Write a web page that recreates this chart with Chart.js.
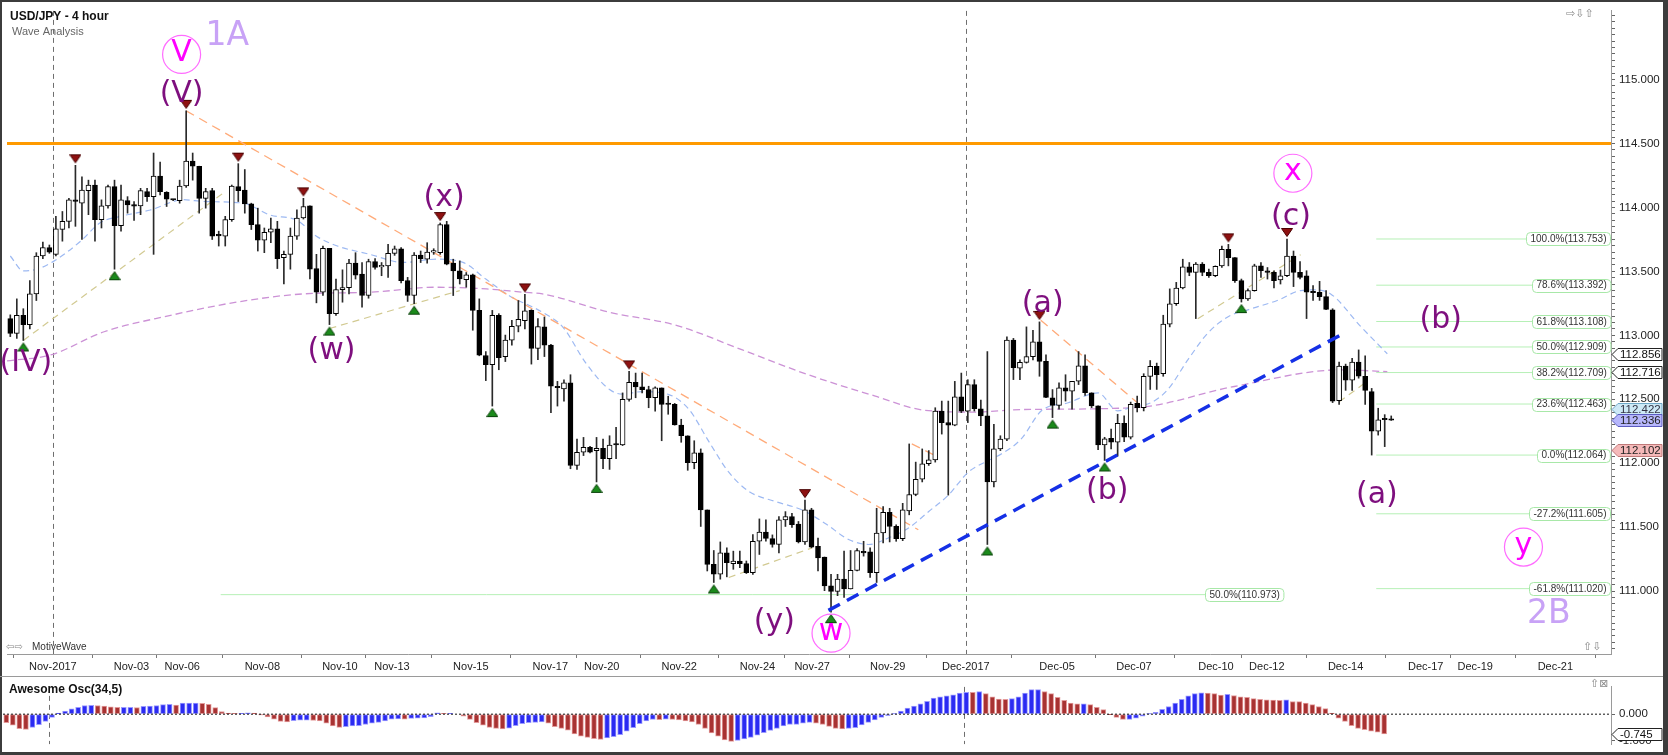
<!DOCTYPE html>
<html><head><meta charset="utf-8">
<script src="https://cdn.jsdelivr.net/npm/chart.js@4.4.1/dist/chart.umd.min.js"></script>
<style>
html,body{margin:0;padding:0;background:#fff;overflow:hidden;}
#wrap{position:relative;width:1668px;height:755px;background:#fff;overflow:hidden;}
canvas{position:absolute;left:0;}
#main{top:0;}
#ao{top:676px;}
.b{position:absolute;background:#3c3c3c;}
</style></head>
<body><div id="wrap">
<canvas id="main" width="1668" height="676" style="width:1668px;height:676px"></canvas>
<canvas id="ao" width="1668" height="79" style="width:1668px;height:79px"></canvas>
<div class="b" style="left:0;top:0;width:2px;height:755px"></div>
<div class="b" style="left:0;top:0;width:1668px;height:2px"></div>
<div class="b" style="left:1663px;top:0;width:5px;height:755px"></div>
<div class="b" style="left:0;top:752px;width:1668px;height:3px"></div>
<div style="position:absolute;left:0;top:676px;width:1663px;height:1px;background:#9a9a9a"></div>
</div>
<script>
// ---------------- DATA ----------------
const opens = [
113.131,113.015,113.156,113.084,113.324,113.620,113.685,113.633,113.827,113.891,
114.059,114.033,114.131,114.175,113.904,114.012,114.162,113.857,114.053,114.015,
114.012,114.123,114.084,114.244,114.118,114.062,114.053,114.167,114.363,114.322,
114.071,114.131,113.782,113.775,113.904,114.162,114.136,114.028,113.865,113.744,
113.806,113.832,113.607,113.633,113.775,113.917,114.012,113.522,113.337,113.680,
113.169,113.357,113.373,113.564,113.479,113.311,113.577,113.535,113.543,113.641,
113.677,113.427,113.311,113.628,113.595,113.651,113.646,113.865,113.564,113.504,
113.435,113.473,113.195,112.842,112.770,113.156,112.834,112.963,113.071,113.115,
113.195,112.898,113.066,112.924,112.598,112.581,112.628,111.983,112.086,112.125,
112.099,112.117,112.035,112.148,112.143,112.499,112.633,112.597,112.576,112.512,
112.589,112.462,112.460,112.298,112.215,112.004,112.081,111.635,111.210,111.133,
111.300,111.215,111.236,111.215,111.145,111.390,111.462,111.411,111.365,111.558,
111.584,111.524,111.385,111.635,111.351,111.267,111.042,110.998,111.094,111.017,
111.163,111.308,111.308,111.145,111.455,111.617,111.506,111.411,111.628,111.756,
111.875,111.996,112.027,112.408,112.318,112.298,112.519,112.408,112.615,112.426,
112.370,111.854,112.112,112.189,112.963,112.744,112.788,112.834,112.950,112.796,
112.512,112.453,112.589,112.563,112.641,112.762,112.551,112.448,112.143,112.195,
112.164,112.313,112.203,112.468,112.435,112.679,112.757,112.700,113.087,113.247,
113.370,113.535,113.492,113.556,113.492,113.466,113.543,113.672,113.607,113.427,
113.285,113.350,113.543,113.505,113.492,113.433,113.466,113.620,113.492,113.466,
113.337,113.337,113.303,113.200,112.490,112.760,112.650,112.790,112.680,112.560,
112.250,112.350,112.340];
const highs = [
113.160,113.285,113.208,113.427,113.646,113.729,113.706,113.930,113.968,114.071,
114.329,114.239,114.213,114.213,114.059,114.175,114.213,114.175,114.084,114.046,
114.149,114.149,114.425,114.355,114.123,114.064,114.213,114.755,114.425,114.322,
114.149,114.149,113.814,113.930,114.175,114.342,114.296,114.033,113.994,113.839,
113.917,113.891,113.659,113.839,113.981,114.071,114.012,113.633,113.698,113.680,
113.440,113.512,113.595,113.646,113.569,113.595,113.600,113.569,113.711,113.698,
113.685,113.453,113.646,113.659,113.724,113.677,113.878,113.891,113.595,113.582,
113.491,113.479,113.285,112.873,113.195,113.169,113.002,113.118,113.272,113.320,
113.200,113.130,113.143,112.930,112.640,112.653,112.692,112.189,112.202,112.133,
112.202,112.189,112.215,112.280,112.550,112.718,112.705,112.705,112.602,112.597,
112.589,112.524,112.468,112.344,112.215,112.176,112.112,111.635,111.318,111.385,
111.339,111.313,111.313,111.236,111.442,111.565,111.558,111.440,111.584,111.622,
111.609,111.545,111.712,111.648,111.416,111.267,111.132,111.132,111.313,111.318,
111.333,111.390,111.339,111.648,111.661,111.648,111.519,111.687,112.151,112.009,
112.112,112.099,112.434,112.486,112.486,112.640,112.705,112.653,112.653,112.494,
112.873,112.305,112.215,112.988,112.976,112.808,113.066,113.040,113.105,112.847,
112.576,112.628,112.692,112.641,112.873,112.847,112.551,112.448,112.203,112.267,
112.383,112.370,112.478,112.525,112.700,112.803,112.783,113.157,113.363,113.414,
113.595,113.569,113.569,113.569,113.518,113.543,113.698,113.711,113.607,113.440,
113.363,113.556,113.569,113.530,113.505,113.510,113.753,113.659,113.576,113.505,
113.389,113.422,113.350,113.208,112.790,112.775,112.820,112.886,112.840,112.585,
112.430,112.380,112.370];
const lows = [
112.990,112.976,112.960,113.050,113.272,113.600,113.641,113.620,113.736,113.839,
113.852,113.749,113.943,113.736,113.839,113.994,113.517,113.814,113.955,113.899,
113.943,114.046,113.633,114.097,114.007,114.053,114.033,114.157,114.213,113.955,
113.994,113.749,113.698,113.698,113.891,114.046,113.955,113.827,113.659,113.646,
113.724,113.522,113.401,113.517,113.749,113.909,113.440,113.254,113.311,113.084,
113.156,113.259,113.324,113.440,113.221,113.290,113.517,113.466,113.453,113.625,
113.409,113.265,113.247,113.569,113.564,113.633,113.633,113.551,113.311,113.401,
113.376,113.040,112.840,112.646,112.447,112.731,112.795,112.924,113.027,113.050,
112.775,112.810,112.834,112.396,112.447,112.486,111.957,111.952,112.060,112.081,
111.854,111.957,111.952,112.035,112.138,112.486,112.512,112.550,112.434,112.408,
112.176,112.383,112.298,112.164,111.945,111.957,111.506,111.158,111.068,111.094,
111.112,111.171,111.184,111.138,111.132,111.287,111.390,111.344,111.300,111.506,
111.498,111.377,111.365,111.339,111.158,111.004,110.836,110.965,110.952,111.017,
111.158,111.274,111.107,111.068,111.377,111.385,111.390,111.395,111.597,111.746,
111.854,111.983,112.009,112.228,111.751,112.293,112.396,112.318,112.408,112.293,
111.365,111.816,112.099,112.176,112.654,112.654,112.783,112.808,112.680,112.512,
112.357,112.422,112.486,112.422,112.615,112.530,112.435,112.107,112.022,112.112,
112.056,112.169,112.190,112.401,112.409,112.577,112.577,112.680,113.066,113.234,
113.363,113.466,113.131,113.466,113.453,113.458,113.530,113.543,113.414,113.260,
113.273,113.345,113.453,113.440,113.370,113.401,113.458,113.381,113.440,113.131,
113.273,113.273,113.200,112.474,112.460,112.570,112.570,112.665,112.460,112.064,
112.220,112.130,112.335];
const closes = [
113.015,113.156,113.084,113.324,113.620,113.685,113.651,113.832,113.891,114.059,
114.046,114.136,114.175,113.904,114.012,114.162,113.857,114.059,114.020,114.010,
114.131,114.084,114.244,114.123,114.064,114.058,114.167,114.363,114.322,114.071,
114.123,113.775,113.777,113.904,114.167,114.131,114.028,113.865,113.744,113.806,
113.832,113.600,113.633,113.775,113.917,114.007,113.517,113.337,113.680,113.169,
113.357,113.373,113.564,113.471,113.311,113.577,113.530,113.543,113.641,113.677,
113.427,113.311,113.628,113.600,113.651,113.655,113.865,113.556,113.504,113.440,
113.473,113.195,112.845,112.770,113.156,112.826,112.963,113.071,113.125,113.192,
112.898,113.068,112.924,112.602,112.590,112.628,111.983,112.086,112.125,112.086,
112.117,112.035,112.143,112.143,112.499,112.633,112.597,112.576,112.512,112.589,
112.460,112.459,112.300,112.215,112.004,112.081,111.635,111.210,111.133,111.300,
111.223,111.236,111.215,111.145,111.390,111.462,111.413,111.365,111.558,111.584,
111.519,111.385,111.635,111.344,111.261,111.042,110.998,111.094,111.017,111.163,
111.318,111.300,111.145,111.455,111.617,111.506,111.411,111.635,111.756,111.875,
111.996,112.027,112.408,112.318,112.298,112.519,112.408,112.615,112.426,112.370,
111.854,112.112,112.189,112.963,112.748,112.788,112.834,112.950,112.796,112.515,
112.453,112.589,112.563,112.640,112.762,112.551,112.448,112.143,112.190,112.164,
112.313,112.203,112.460,112.435,112.679,112.757,112.693,113.087,113.247,113.370,
113.535,113.492,113.556,113.492,113.466,113.540,113.672,113.607,113.427,113.285,
113.350,113.543,113.505,113.492,113.427,113.466,113.620,113.492,113.453,113.337,
113.333,113.303,113.203,112.486,112.760,112.650,112.790,112.680,112.570,112.250,
112.340,112.340,112.336];
const aoValues = [
-0.32,-0.42,-0.55,-0.58,-0.50,-0.40,-0.27,-0.12,0.04,0.12,
0.20,0.26,0.33,0.34,0.33,0.31,0.28,0.26,0.26,0.26,
0.255,0.30,0.31,0.33,0.36,0.37,0.35,0.42,0.42,0.425,
0.41,0.37,0.25,0.10,0.04,0.03,0.03,0.05,0.04,-0.03,
-0.10,-0.19,-0.27,-0.29,-0.25,-0.23,-0.23,-0.24,-0.26,-0.34,
-0.45,-0.50,-0.47,-0.45,-0.44,-0.39,-0.34,-0.31,-0.26,-0.19,
-0.18,-0.185,-0.16,-0.15,-0.14,-0.09,0.05,0.03,0.03,0.0,
-0.08,-0.20,-0.32,-0.42,-0.50,-0.54,-0.56,-0.53,-0.44,-0.36,
-0.32,-0.31,-0.29,-0.34,-0.47,-0.54,-0.61,-0.75,-0.83,-0.88,
-0.93,-0.96,-0.90,-0.85,-0.78,-0.64,-0.51,-0.36,-0.26,-0.20,
-0.205,-0.19,-0.20,-0.22,-0.26,-0.29,-0.39,-0.54,-0.71,-0.83,
-0.98,-1.03,-1.00,-0.94,-0.88,-0.80,-0.70,-0.62,-0.54,-0.45,
-0.39,-0.385,-0.34,-0.31,-0.34,-0.39,-0.46,-0.54,-0.56,-0.54,
-0.51,-0.41,-0.31,-0.22,-0.12,-0.05,0.01,0.12,0.23,0.31,
0.39,0.49,0.61,0.66,0.70,0.73,0.80,0.83,0.825,0.86,
0.78,0.66,0.57,0.565,0.59,0.66,0.80,0.93,0.935,0.86,
0.78,0.64,0.53,0.42,0.39,0.395,0.36,0.26,0.17,-0.01,
-0.12,-0.20,-0.20,-0.15,-0.08,0.01,0.07,0.18,0.29,0.42,
0.56,0.70,0.78,0.81,0.805,0.78,0.72,0.75,0.71,0.66,
0.64,0.59,0.56,0.54,0.535,0.53,0.54,0.48,0.475,0.42,
0.36,0.29,0.21,0.04,-0.15,-0.27,-0.44,-0.54,-0.59,-0.64,
-0.68,-0.745];

const xTickPos = [6.54,18.6,26.4,38.7,50.6,58.6,70.7,82.9,90.8,102.7,114.7,123.1,134.7,146.7,160.7,172.5,185.1,192.9,205.0,217.3,224.9,237.2];
const xTickLabels = ['Nov-2017','Nov-03','Nov-06','Nov-08','Nov-10','Nov-13','Nov-15','Nov-17','Nov-20','Nov-22','Nov-24','Nov-27','Nov-29','Dec-2017','Dec-05','Dec-07','Dec-10','Dec-12','Dec-14','Dec-17','Dec-19','Dec-21'];
const monthLineIdx = [6.54, 146.7];
const yMajorTicks = [111.0,111.5,112.0,112.5,113.0,113.5,114.0,114.5,115.0];

const maFastIdx = [0,2,4.1,6.7,10.8,13.8,16.9,21.5,26.6,29.7,35.8,39.9,44,47,50.1,55.2,60.3,65.4,69.5,73,76.6,81.7,84.8,88.4,92,94,97,101.1,104.2,107.3,110.3,113.4,117.5,121.5,125.1,128.7,131.8,134.8,137.9,141,144,147.1,150.1,152.2,155.2,158.3,162.4,167,170,172.6,175.1,177.7,180.8,183.8,186.9,190.5,194.5,198.1,200.2,202.7,207.3,211.4];
const maFastVal = [113.62,113.504,113.517,113.58,113.736,113.88,113.93,113.98,114.06,114.046,114.033,113.94,113.9,113.775,113.70,113.633,113.57,113.595,113.57,113.44,113.31,113.18,113.066,112.78,112.576,112.54,112.56,112.537,112.42,112.165,111.93,111.78,111.70,111.636,111.53,111.404,111.365,111.416,111.494,111.623,111.75,111.932,112.02,112.074,112.19,112.41,112.473,112.55,112.41,112.448,112.473,112.576,112.81,113.015,113.144,113.208,113.272,113.35,113.355,113.324,113.07,112.856];
const maSlowIdx = [-0.5,6.2,14.4,24.6,34.8,45,55.2,65.4,73.1,78.7,81.7,92,102.1,112.4,122.6,132.8,140.4,148.1,155.2,172.6,187.9,204.2,211.4];
const maSlowVal = [112.80,112.847,113.028,113.156,113.26,113.324,113.337,113.376,113.363,113.337,113.324,113.18,113.08,112.886,112.69,112.525,112.414,112.40,112.42,112.435,112.60,112.73,112.716];

const fibPct = ['100.0%','78.6%','61.8%','50.0%','38.2%','23.6%','0.0%','-27.2%','-61.8%'];
const fibVal = [113.753,113.392,113.108,112.909,112.709,112.463,112.064,111.605,111.020];
const fibOldPct = '50.0%';
const fibOldVal = 110.973;

const highMarkIdx = [10,27,35,45,66,79,95,122,158,187,196];
const lowMarkIdx = [2,16,49,62,74,90,108,126,150,160,168,189];

// trend lines: [x1,y1,x2,y2]
const orangeTrend = [[27,114.755,139.4,111.48],[158.2,113.118,174.1,112.427],[138.4,112.151,142.5,112.048]];
const khakiTrend = [[2,112.96,32.9,114.12],[49,113.053,69,113.35],[110.3,111.107,123.1,111.339],[182.3,113.13,198.1,113.63],[204,112.48,208.3,112.64]];
const blueTrend = [125.6,110.85,204.5,113.01];
const resistance = 114.5;

const waveText  = ['(IV)','(V)','V','1A','(w)','(x)','(y)','w','(a)','(b)','(c)','x','(b)','(a)','y','2B'];
const waveIdx   = [2.4,26.3,26.3,33.3,49.3,66.6,117.3,126,158.5,168.4,196.6,196.9,219.6,209.8,232.3,236.2];
const wavePrice = [112.783,114.887,115.196,115.335,112.876,114.075,110.757,110.672,113.247,111.785,113.92,114.267,113.117,111.748,111.345,110.819];
const waveKind  = ['p','p','c','d','p','p','p','c','p','p','p','c','p','p','c','d'];

const priceBoxVal = [112.856,112.716,112.422,112.336,112.102];
const priceBoxKind = ['w','w','c','v','r'];
const aoBoxVal = -0.745;

// ---------------- CHART ----------------
const xMin = -0.505, xMax = 245.74, yMin = 110.509, yMax = 115.536;
const FONT = '"Liberation Sans", Arial, sans-serif';
const DJ = '"DejaVu Sans", Verdana, sans-serif';
Chart.defaults.font.family = FONT;
const N = opens.length;
const idx = Array.from({length:N}, (_, i) => i);

function triImg(down, fill, stroke){
  const c = document.createElement('canvas'); c.width = 12; c.height = 26;
  const g = c.getContext('2d'); g.beginPath();
  if (down){ g.moveTo(0.5,2.5); g.lineTo(11.5,2.5); g.lineTo(6,10.5); }
  else { g.moveTo(0.5,23.5); g.lineTo(11.5,23.5); g.lineTo(6,15.5); }
  g.closePath(); g.fillStyle = fill; g.fill(); g.strokeStyle = stroke; g.lineWidth = 1; g.stroke();
  return c;
}
const redTri = triImg(true, '#8e1111', '#4a0000');
const greenTri = triImg(false, '#1b8a1b', '#0b440b');

function seg(a, color, width, dash, order){
  return {type:'line', data:[{x:a[0],y:a[1]},{x:a[2],y:a[3]}], borderColor:color, borderWidth:width,
          borderDash:dash, pointRadius:0, fill:false, order:order};
}

const datasets = [];
// candles
datasets.push({type:'bar', data: idx.map(i => ({x:i, y:[opens[i], closes[i]]})), barThickness:5, grouped:false,
  backgroundColor: c => closes[c.dataIndex] >= opens[c.dataIndex] ? '#ffffff' : '#000000',
  borderColor:'#000', borderWidth:1, borderSkipped:false, minBarLength:1.5, order:3});
datasets.push({type:'bar', data: idx.map(i => ({x:i, y:[lows[i], highs[i]]})), barThickness:1, grouped:false,
  backgroundColor:'#2a2a2a', borderWidth:0, order:4});
// resistance
datasets.push({type:'line', data:[{x:xMin,y:resistance},{x:xMax,y:resistance}], borderColor:'#ff9a00', borderWidth:3, pointRadius:0, order:9});
// MAs
datasets.push({type:'line', data: maFastIdx.map((v,k)=>({x:v,y:maFastVal[k]})), borderColor:'#9db9f2', borderWidth:1.2, borderDash:[6,4], pointRadius:0, cubicInterpolationMode:'monotone', order:7});
datasets.push({type:'line', data: maSlowIdx.map((v,k)=>({x:v,y:maSlowVal[k]})), borderColor:'#cc92d6', borderWidth:1.3, borderDash:[7,4], pointRadius:0, cubicInterpolationMode:'monotone', order:7});
// fib lines
fibVal.forEach(v => datasets.push(seg([209.7, v, xMax, v], '#b6f0b6', 1, [], 10)));
datasets.push(seg([32.3, fibOldVal, 195.5, fibOldVal], '#b6f0b6', 1, [], 10));
// trend lines
orangeTrend.forEach(a => datasets.push(seg(a, '#ffab7a', 1.3, [9,6], 6)));
khakiTrend.forEach(a => datasets.push(seg(a, '#d2ca92', 1.2, [7,5], 6)));
datasets.push(seg(blueTrend, '#1530e6', 3.5, [13,8], 2));
// swing markers
datasets.push({type:'line', showLine:false, data: highMarkIdx.map(i => ({x:i, y:highs[i]})), pointStyle:redTri, pointRadius:6, order:1});
datasets.push({type:'line', showLine:false, data: lowMarkIdx.map(i => ({x:i, y:lows[i]})), pointStyle:greenTri, pointRadius:6, order:1});

function rr(ctx, x, y, w, h, r){
  ctx.beginPath(); ctx.moveTo(x+r,y); ctx.lineTo(x+w-r,y); ctx.quadraticCurveTo(x+w,y,x+w,y+r);
  ctx.lineTo(x+w,y+h-r); ctx.quadraticCurveTo(x+w,y+h,x+w-r,y+h); ctx.lineTo(x+r,y+h);
  ctx.quadraticCurveTo(x,y+h,x,y+h-r); ctx.lineTo(x,y+r); ctx.quadraticCurveTo(x,y,x+r,y); ctx.closePath();
}
function fibLabel(ctx, text, xr, yc){
  ctx.font = '10px ' + FONT;
  const w = ctx.measureText(text).width + 8, h = 13;
  const x0 = Math.round(xr - w) + 0.5, y0 = Math.round(yc - h/2) + 0.5;
  rr(ctx, x0, y0, w, h, 4); ctx.fillStyle = '#fff'; ctx.fill();
  ctx.strokeStyle = '#a8e8a8'; ctx.lineWidth = 1; ctx.stroke();
  ctx.fillStyle = '#333'; ctx.textAlign = 'left'; ctx.textBaseline = 'middle';
  ctx.fillText(text, x0 + 4, yc + 0.5);
}
function priceBox(ctx, text, xl, yc, fill, stroke, tcolor, font){
  const h = 12, w = 44;
  ctx.beginPath(); ctx.moveTo(xl, yc); ctx.lineTo(xl+6, yc-h/2); ctx.lineTo(xl+6+w, yc-h/2);
  ctx.lineTo(xl+6+w, yc+h/2); ctx.lineTo(xl+6, yc+h/2); ctx.closePath();
  ctx.fillStyle = fill; ctx.fill(); ctx.strokeStyle = stroke; ctx.lineWidth = 1; ctx.stroke();
  ctx.fillStyle = tcolor; ctx.font = font; ctx.textAlign = 'left'; ctx.textBaseline = 'middle';
  ctx.fillText(text, xl + 8, yc + 0.5);
}

const mainPlugin = {
  id:'mainDecor',
  beforeDatasetsDraw(chart){
    const {ctx, chartArea:a, scales:{x}} = chart;
    ctx.save(); ctx.strokeStyle = '#6f6f6f'; ctx.lineWidth = 1; ctx.setLineDash([5,4]);
    monthLineIdx.forEach(v => { const px = Math.round(x.getPixelForValue(v)) + 0.5;
      ctx.beginPath(); ctx.moveTo(px, a.top); ctx.lineTo(px, a.bottom); ctx.stroke(); });
    ctx.restore();
  },
  afterDatasetsDraw(chart){
    const {ctx, chartArea:a, scales:{x, y}} = chart;
    ctx.save();
    // fib labels
    fibVal.forEach((v,k) => fibLabel(ctx, fibPct[k] + '(' + v.toFixed(3) + ')', a.right - 1, y.getPixelForValue(v)));
    fibLabel(ctx, fibOldPct + '(' + fibOldVal.toFixed(3) + ')', x.getPixelForValue(195.5), y.getPixelForValue(fibOldVal));
    // wave labels
    waveText.forEach((t,k) => {
      const px = x.getPixelForValue(waveIdx[k]), py = y.getPixelForValue(wavePrice[k]);
      const kind = waveKind[k];
      ctx.textAlign = 'center'; ctx.textBaseline = 'middle';
      if (kind === 'p'){ ctx.font = '30px ' + DJ; ctx.fillStyle = '#7e0f7e'; ctx.fillText(t, px, py); }
      else if (kind === 'c'){
        ctx.beginPath(); ctx.arc(px, py, 19, 0, Math.PI*2); ctx.strokeStyle = '#ff6cff'; ctx.lineWidth = 1.2; ctx.stroke();
        ctx.font = '30px ' + DJ; ctx.fillStyle = '#ff00ff'; ctx.fillText(t, px, py - 1);
      } else { ctx.font = '33px ' + DJ; ctx.fillStyle = '#c8a2f6'; ctx.fillText(t, px, py); }
    });
    // title & captions
    ctx.textAlign = 'left'; ctx.textBaseline = 'alphabetic';
    ctx.fillStyle = '#111'; ctx.font = 'bold 12px ' + FONT; ctx.fillText('USD/JPY - 4 hour', 10, 20);
    ctx.fillStyle = '#666'; ctx.font = '11px ' + FONT; ctx.fillText('Wave Analysis', 12, 35);
    ctx.fillStyle = '#888'; ctx.font = '10px ' + DJ; ctx.fillText('\u21E6\u21E8', 6, 650);
    ctx.fillStyle = '#333'; ctx.font = '10px ' + FONT; ctx.fillText('MotiveWave', 32, 650);
    ctx.fillStyle = '#888'; ctx.font = '11px ' + DJ; ctx.fillText('\u21E8\u21E9\u21E7', 1566, 17);
    ctx.fillText('\u21E7\u21E9', 1583, 650);
    ctx.restore();
  },
  afterDraw(chart){
    const {ctx, chartArea:a, scales:{y}} = chart;
    ctx.save();
    const f = '11.5px ' + FONT;
    const st = {w:['#fff','#222','#111'], c:['#cde9f6','#6ea8c8','#334'], v:['#b6b6fb','#5b5bc0','#222'], r:['#f5b9b9','#c07a7a','#222']};
    priceBoxVal.forEach((v,k) => { const s = st[priceBoxKind[k]];
      priceBox(ctx, v.toFixed(3), a.right + 1, Math.round(y.getPixelForValue(v)) + 0.5, s[0], s[1], s[2], f); });
    ctx.restore();
  }
};

new Chart(document.getElementById('main'), {
  type:'bar',
  data:{datasets},
  options:{
    responsive:false, animation:false, devicePixelRatio:1, events:[],
    layout:{padding:{left:3, top:4, right:0, bottom:0}},
    plugins:{legend:{display:false}, tooltip:{enabled:false}},
    scales:{
      x:{type:'linear', min:xMin, max:xMax, offset:false, position:'bottom',
        grid:{drawOnChartArea:false, drawTicks:true, tickLength:4, color:'#777'},
        border:{display:true, color:'#9a9a9a'},
        ticks:{autoSkip:false, maxRotation:0, minRotation:0, padding:2, color:'#222', font:{size:11},
          callback:(v,k) => xTickLabels[k]},
        afterBuildTicks:(ax) => { ax.ticks = xTickPos.map(v => ({value:v})); },
        afterFit:(ax) => { ax.height = 22; }},
      y:{type:'linear', position:'right', min:yMin, max:yMax,
        grid:{drawOnChartArea:false, drawTicks:true, tickLength:4, color:'#666'},
        border:{display:true, color:'#9a9a9a'},
        ticks:{autoSkip:false, padding:4, color:'#222', font:{size:11.5},
          callback:(v) => yMajorTicks.some(m => Math.abs(m - v) < 1e-6) ? v.toFixed(3) : ''},
        afterBuildTicks:(ax) => {
          const t = [];
          for (let c = 11055; c <= 11550; c += 5) t.push({value: c/100});
          ax.ticks = t;
        },
        afterFit:(ax) => { ax.width = 57; }}
    }
  },
  plugins:[mainPlugin]
});

// ---------------- AO PANEL ----------------
const aoIdx = Array.from({length:aoValues.length}, (_, i) => i);
const aoUp = aoIdx.map(i => i === 0 ? false : aoValues[i] >= aoValues[i-1]);
const aoPlugin = {
  id:'aoDecor',
  beforeDatasetsDraw(chart){
    const {ctx, chartArea:a, scales:{x}} = chart;
    ctx.save(); ctx.strokeStyle = '#6f6f6f'; ctx.lineWidth = 1; ctx.setLineDash([5,4]);
    monthLineIdx.forEach(v => { const px = Math.round(x.getPixelForValue(v)) + 0.5;
      ctx.beginPath(); ctx.moveTo(px, a.top); ctx.lineTo(px, a.bottom); ctx.stroke(); });
    ctx.restore();
  },
  afterDraw(chart){
    const {ctx, chartArea:a, scales:{y}} = chart;
    ctx.save();
    ctx.fillStyle = '#111'; ctx.font = 'bold 12px ' + FONT; ctx.textAlign = 'left'; ctx.textBaseline = 'middle';
    ctx.fillText('Awesome Osc(34,5)', 9, 14);
    ctx.fillStyle = '#888'; ctx.font = '11px ' + DJ; ctx.fillText('\u21E7\u22A0', 1590, 8);
    priceBox(ctx, aoBoxVal.toFixed(3), a.right + 1, Math.round(y.getPixelForValue(aoBoxVal)) + 0.5, '#fff', '#222', '#111', '11.5px ' + FONT);
    ctx.restore();
  }
};
new Chart(document.getElementById('ao'), {
  type:'bar',
  data:{datasets:[
    {type:'line', data:[{x:xMin,y:0},{x:xMax,y:0}], borderColor:'#111', borderWidth:1, borderDash:[2,2], pointRadius:0, order:0},
    {type:'bar', data: aoIdx.map(i => ({x:i, y:aoValues[i]})), barThickness:5, grouped:false,
      backgroundColor: c => aoUp[c.dataIndex] ? '#2b2bf2' : '#a83232',
      borderColor: c => aoUp[c.dataIndex] ? '#9a9aff' : '#e39a9a',
      borderWidth:1, borderSkipped:false, order:1}
  ]},
  options:{
    responsive:false, animation:false, devicePixelRatio:1, events:[],
    layout:{padding:{left:3, top:2, right:0, bottom:3}},
    plugins:{legend:{display:false}, tooltip:{enabled:false}},
    scales:{
      x:{type:'linear', min:xMin, max:xMax, offset:false, display:false},
      y:{type:'linear', position:'right', min:-1.135, max:1.035,
        grid:{drawOnChartArea:false, drawTicks:true, tickLength:4, color:'#666'},
        border:{display:true, color:'#9a9a9a'},
        ticks:{autoSkip:false, padding:4, color:'#222', font:{size:11.5}, callback:(v) => v.toFixed(3)},
        afterBuildTicks:(ax) => { ax.ticks = [{value:-1},{value:0}]; },
        afterFit:(ax) => { ax.width = 57; }}
    }
  },
  plugins:[aoPlugin]
});
</script>
</body></html>
